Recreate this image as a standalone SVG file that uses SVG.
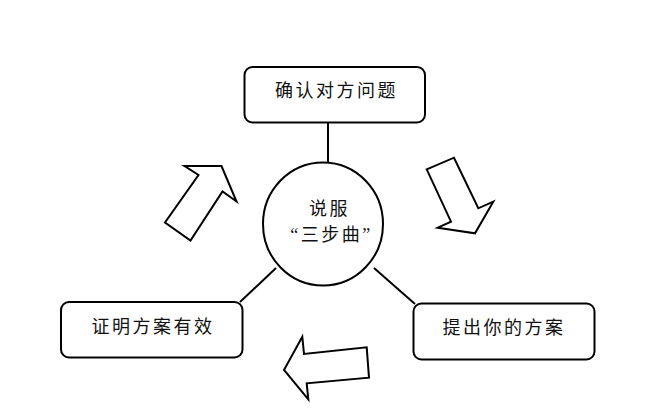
<svg xmlns="http://www.w3.org/2000/svg" width="668" height="417" viewBox="0 0 668 417">
<style>
.box{fill:#fff;stroke:#000;stroke-width:2}
.arr{fill:#fff;stroke:#000;stroke-width:2;stroke-linejoin:miter}
.ln{stroke:#000;stroke-width:2;fill:none}
text{font-family:"Liberation Serif","Noto Sans CJK SC",serif;font-size:18px;fill:#111;text-anchor:middle;letter-spacing:2.5px}
</style>
<rect width="668" height="417" fill="#fff"/>
<g id="connectors">
<line class="ln" x1="328" y1="122" x2="328" y2="164"/>
<line class="ln" x1="276" y1="268" x2="240" y2="302"/>
<line class="ln" x1="374" y1="268" x2="415" y2="304"/>
</g>
<g id="arrows">
<polygon class="arr" points="184.5,166 221.5,166 236.5,201.5 222.5,191.5 190.5,240.5 165,222.5 198.5,175"/>
<polygon class="arr" points="426.7,169.3 454,157.7 478.3,208.3 493.3,201.7 475,233.3 437.7,227.7 451,221.7"/>
<polygon class="arr" points="284,370 302.3,336.7 304,354 366.7,347.3 369,377.7 306.7,383.3 308.3,399.3"/>
</g>
<g id="center">
<ellipse class="box" cx="323" cy="224" rx="60" ry="61.5"/>
<text x="329.5" y="215">说服</text>
<text x="331.5" y="241">“三步曲”</text>
</g>
<g id="top">
<rect class="box" x="244.5" y="67" width="180.5" height="55.5" rx="8"/>
<text x="336.5" y="97">确认对方问题</text>
</g>
<g id="left">
<rect class="box" x="61" y="302" width="181.5" height="55.5" rx="8"/>
<text x="153" y="333">证明方案有效</text>
</g>
<g id="right">
<rect class="box" x="413.5" y="303.5" width="181" height="56" rx="8"/>
<text x="504" y="334">提出你的方案</text>
</g>
</svg>
